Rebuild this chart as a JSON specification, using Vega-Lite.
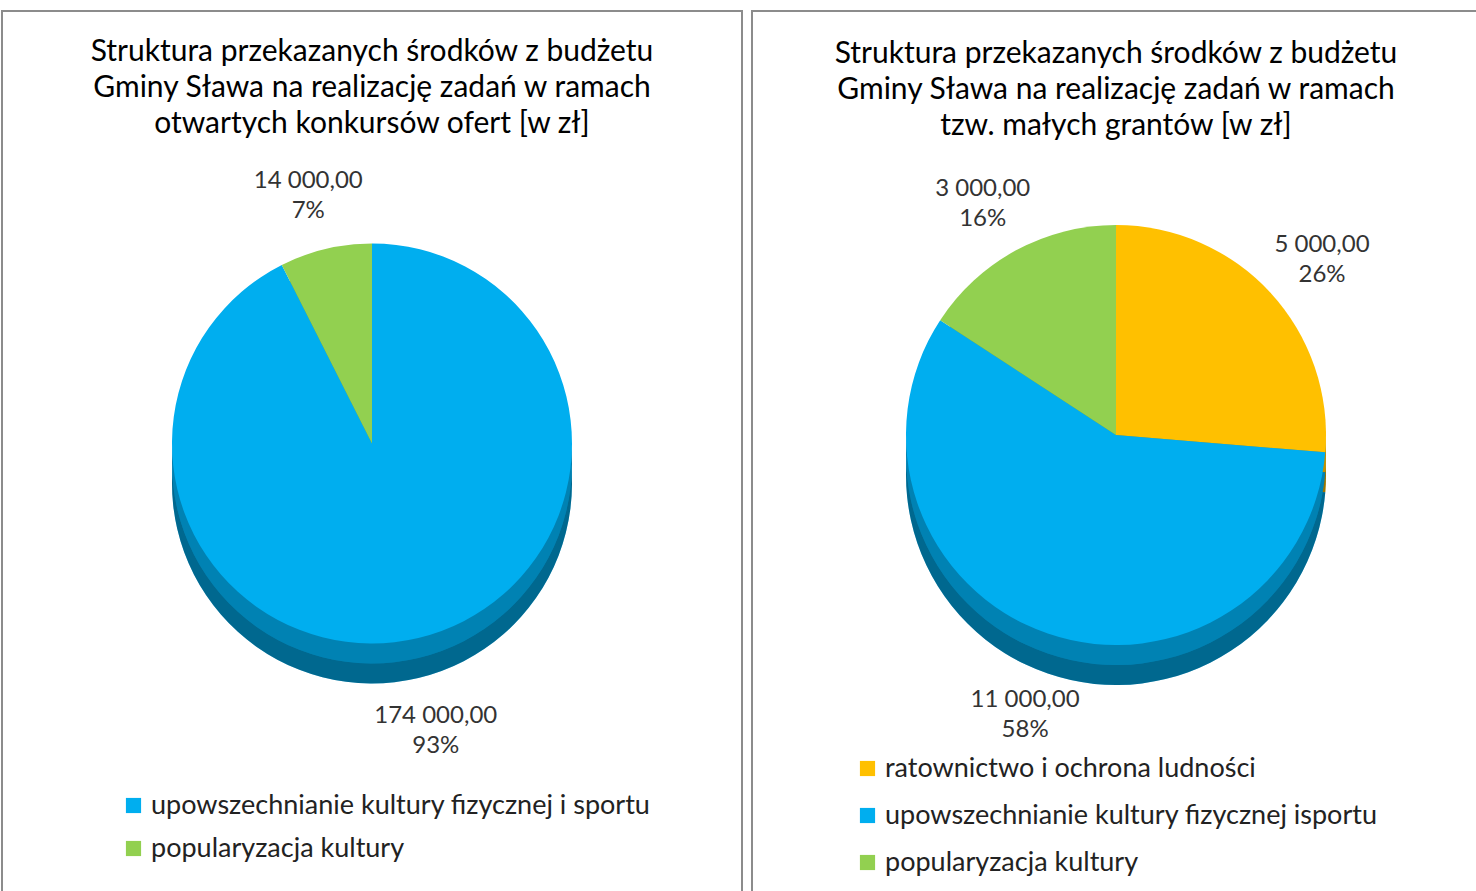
{
  "$schema": "https://vega.github.io/schema/vega-lite/v6.json",
  "background": "white",
  "padding": {"left": 1, "top": 10, "right": 0, "bottom": 0},
  "config": {
    "view": {"stroke": "#8c8c8c", "strokeWidth": 2},
    "font": "Lato",
    "title": {"font": "Lato", "fontSize": 30, "fontWeight": "normal", "color": "#000000", "lineHeight": 36, "anchor": "middle"},
    "legend": {"labelFont": "Lato", "labelFontSize": 27, "labelColor": "#222222", "symbolType": "square", "symbolSize": 230, "symbolStrokeWidth": 0, "labelLimit": 800, "rowPadding": 15, "orient": "none"}
  },
  "datasets": {
    "left": [
      {"kategoria": "upowszechnianie kultury fizycznej i sportu", "kwota": 174000, "o": 1, "label": "174 000,00\n93%"},
      {"kategoria": "popularyzacja kultury", "kwota": 14000, "o": 2, "label": "14 000,00\n7%"}
    ],
    "right": [
      {"kategoria": "ratownictwo i ochrona ludności", "kwota": 5000, "o": 1, "label": "5 000,00\n26%"},
      {"kategoria": "upowszechnianie kultury fizycznej isportu", "kwota": 11000, "o": 2, "label": "11 000,00\n58%"},
      {"kategoria": "popularyzacja kultury", "kwota": 3000, "o": 3, "label": "3 000,00\n16%"}
    ]
  },
  "hconcat": [
    {
      "width": 740,
      "height": 885,
      "view": {"stroke": "#8c8c8c", "strokeWidth": 2},
      "title": {"text": ["Struktura przekazanych środków z budżetu", "Gminy Sława na realizację zadań w ramach", "otwartych konkursów ofert [w zł]"], "offset": -128},
      "data": {"name": "left"},
      "encoding": {
        "theta": {"field": "kwota", "type": "quantitative", "stack": true},
        "order": {"field": "o", "type": "quantitative"}
      },
      "layer": [
        {
          "mark": {"type": "arc", "outerRadius": 200, "yOffset": 30},
          "encoding": {
            "color": {"field": "kategoria", "type": "nominal",
              "scale": {"domain": ["upowszechnianie kultury fizycznej i sportu", "popularyzacja kultury"], "range": ["#00AEEF", "#92D050"]},
              "legend": {"title": null, "legendX": 118, "legendY": 781}}
          }
        },
        {
          "mark": {"type": "arc", "outerRadius": 200, "yOffset": 30, "color": "#000000", "opacity": 0.4},
          "encoding": {}
        },
        {
          "mark": {"type": "arc", "outerRadius": 200, "yOffset": 10},
          "encoding": {"color": {"field": "kategoria", "type": "nominal"}}
        },
        {
          "mark": {"type": "arc", "outerRadius": 200, "yOffset": 10, "color": "#000000", "opacity": 0.25},
          "encoding": {}
        },
        {
          "mark": {"type": "arc", "outerRadius": 200, "yOffset": -10},
          "encoding": {"color": {"field": "kategoria", "type": "nominal"}}
        },
        {
          "mark": {"type": "text", "radius": 275, "fontSize": 24, "color": "#333333", "lineBreak": "\n", "lineHeight": 30, "align": "center", "baseline": "middle", "yOffset": -5},
          "encoding": {"text": {"field": "label", "type": "nominal"}}
        }
      ]
    },
    {
      "width": 728,
      "height": 888,
      "view": {"stroke": "#8c8c8c", "strokeWidth": 2},
      "title": {"text": ["Struktura przekazanych środków z budżetu", "Gminy Sława na realizację zadań w ramach", "tzw. małych grantów [w zł]"], "offset": -130},
      "data": {"name": "right"},
      "encoding": {
        "theta": {"field": "kwota", "type": "quantitative", "stack": true},
        "order": {"field": "o", "type": "quantitative"}
      },
      "layer": [
        {
          "mark": {"type": "arc", "outerRadius": 210, "yOffset": 20},
          "encoding": {
            "color": {"field": "kategoria", "type": "nominal",
              "scale": {"domain": ["ratownictwo i ochrona ludności", "upowszechnianie kultury fizycznej isportu", "popularyzacja kultury"], "range": ["#FFC000", "#00AEEF", "#92D050"]},
              "legend": {"title": null, "legendX": 102, "legendY": 744, "rowPadding": 19}}
          }
        },
        {
          "mark": {"type": "arc", "outerRadius": 210, "yOffset": 20, "color": "#000000", "opacity": 0.4},
          "encoding": {}
        },
        {
          "mark": {"type": "arc", "outerRadius": 210, "yOffset": 0},
          "encoding": {"color": {"field": "kategoria", "type": "nominal"}}
        },
        {
          "mark": {"type": "arc", "outerRadius": 210, "yOffset": 0, "color": "#000000", "opacity": 0.25},
          "encoding": {}
        },
        {
          "mark": {"type": "arc", "outerRadius": 210, "yOffset": -20},
          "encoding": {"color": {"field": "kategoria", "type": "nominal"}}
        },
        {
          "mark": {"type": "text", "radius": 280, "fontSize": 24, "color": "#333333", "lineBreak": "\n", "lineHeight": 30, "align": "center", "baseline": "middle", "yOffset": -20},
          "encoding": {"text": {"field": "label", "type": "nominal"}}
        }
      ]
    }
  ],
  "spacing": 8,
  "resolve": {"scale": {"color": "independent", "theta": "independent"}, "legend": {"color": "independent"}}
}
